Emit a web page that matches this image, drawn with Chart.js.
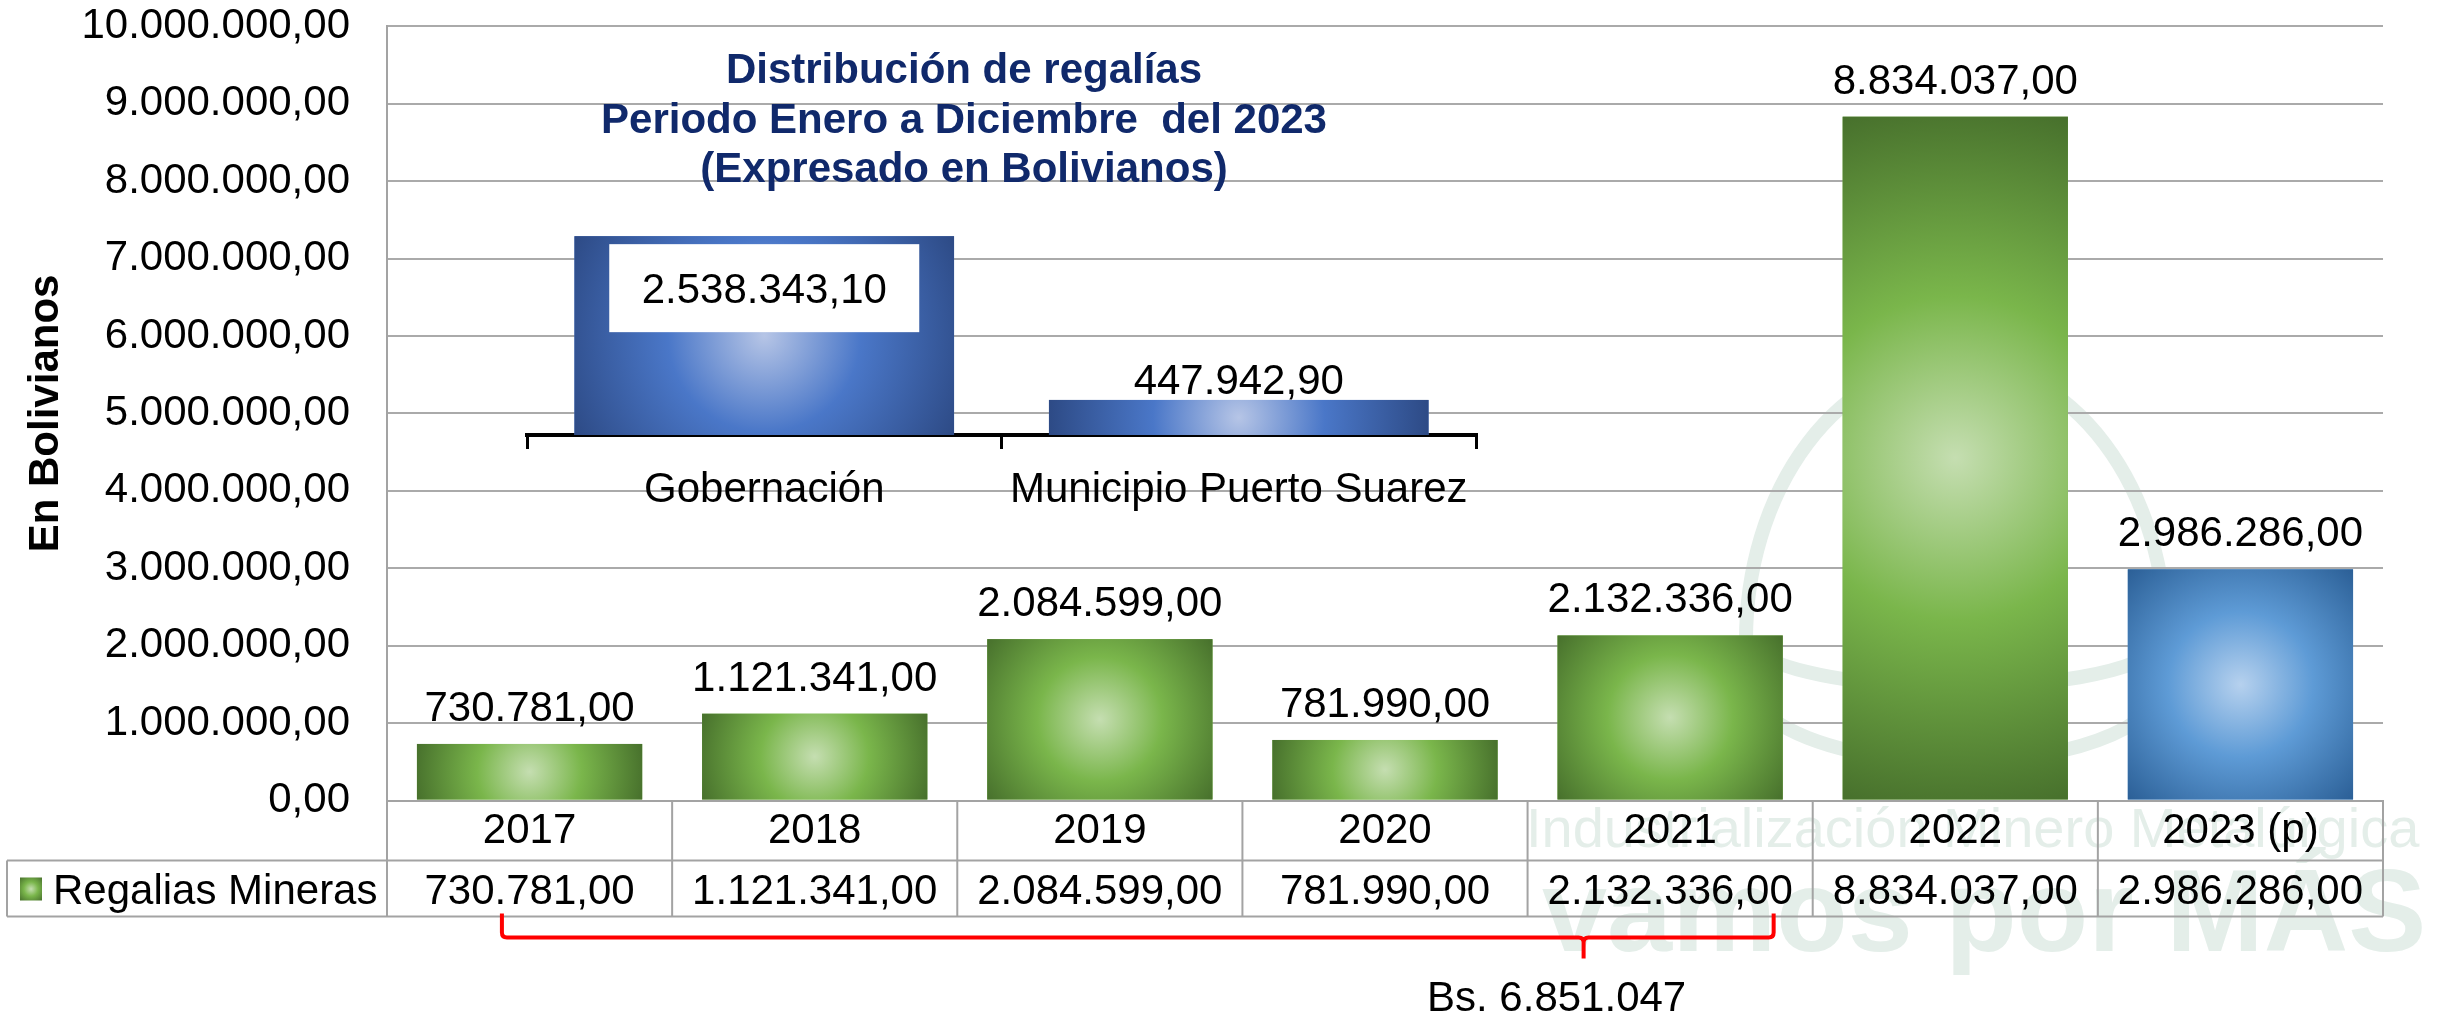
<!DOCTYPE html>
<html>
<head>
<meta charset="utf-8">
<title>Distribución de regalías</title>
<script src="https://cdn.jsdelivr.net/npm/chart.js@4.4.1/dist/chart.umd.min.js"></script>
<style>
  html, body { margin: 0; padding: 0; background: #fff; }
  #wrap { position: relative; width: 2450px; height: 1013px; }
  #mainChart { position: absolute; left: 0; top: 0; }
  #insetChart { position: absolute; left: 480px; top: 190px; }
</style>
</head>
<body>
<div id="wrap">
  <canvas id="mainChart" width="2450" height="1013"></canvas>
  <canvas id="insetChart" width="1050" height="330"></canvas>
</div>
<script>
// main series
const years = ['2017', '2018', '2019', '2020', '2021', '2022', '2023 (p)'];
const regalias = [730781, 1121341, 2084599, 781990, 2132336, 8834037, 2986286];
const seriesName = 'Regalias Mineras';
const yMax = 10000000;
const yStep = 1000000;

// inset: distribution of 2023
const destinos = ['Gobernación', 'Municipio Puerto Suarez'];
const distribucion = [2538343.10, 447942.90];

const titleLines = ['Distribución de regalías', 'Periodo Enero a Diciembre  del 2023', '(Expresado en Bolivianos)'];
const axisTitle = 'En Bolivianos';
const watermarkText = ['Industrialización Minero Metalúrgica', 'vamos por MÁS'];
// years summed under the red bracket (2017..2021)
const bracketFrom = 0;
const bracketTo = 4;

const FONT = "'Liberation Sans', Arial, Helvetica, sans-serif";
const green = ['#c5deb1', '#7ab64b', '#47702c'];
const blue = ['#b6d1ee', '#5e9bd6', '#2b5f96'];
const navy = ['#b6c5e6', '#4a77c8', '#2d4a85'];
const lineGray = '#a3a3a3';

Chart.defaults.font.family = FONT;

function fmt(v, dec) {
    const parts = v.toFixed(dec).split('.');
    const int = parts[0].replace(/\B(?=(\d{3})+(?!\d))/g, '.');
    return dec ? int + ',' + parts[1] : int;
}

function radialFill(ctx, left, top, w, h, pal) {
    const cx = left + w / 2, cy = top + h / 2, r = Math.hypot(w / 2, h / 2);
    const g = ctx.createRadialGradient(cx, cy, 0, cx, cy, r);
    g.addColorStop(0, pal[0]);
    g.addColorStop(0.45, pal[1]);
    g.addColorStop(1, pal[2]);
    return g;
}

// repaint each library bar with an Excel-like radial shading
const radialBars = {
    id: 'radialBars',
    afterDatasetsDraw(chart, args, opts) {
        const ctx = chart.ctx;
        chart.getDatasetMeta(0).data.forEach((bar, i) => {
            const p = bar.getProps(['x', 'y', 'base', 'width'], true);
            const left = p.x - p.width / 2;
            const top = Math.min(p.y, p.base);
            const h = Math.abs(p.base - p.y);
            ctx.save();
            ctx.fillStyle = radialFill(ctx, left, top, p.width, h, opts.palettes[i]);
            ctx.fillRect(left, top, p.width, h);
            ctx.restore();
        });
    }
};

const watermark = {
    id: 'watermark',
    beforeDraw(chart) {
        const ctx = chart.ctx;
        ctx.save();
        ctx.fillStyle = '#fff';
        ctx.fillRect(0, 0, chart.width, chart.height);
        ctx.strokeStyle = '#e4eee9';
        ctx.lineWidth = 14;
        ctx.beginPath();
        ctx.ellipse(1956, 640, 210, 278, 0, Math.PI, 2 * Math.PI);
        ctx.stroke();
        ctx.beginPath();
        ctx.ellipse(1956, 636, 210, 51, 0, 0.05 * Math.PI, 0.95 * Math.PI);
        ctx.stroke();
        ctx.beginPath();
        ctx.ellipse(1956, 679, 210, 83, 0, 0.08 * Math.PI, 0.92 * Math.PI);
        ctx.stroke();
        ctx.fillStyle = '#e4eee9';
        ctx.textAlign = 'left';
        ctx.textBaseline = 'alphabetic';
        ctx.font = '56px ' + FONT;
        ctx.fillText(watermarkText[0], 1526, 847);
        ctx.font = 'bold 117px ' + FONT;
        ctx.fillText(watermarkText[1], 1542, 951);
        ctx.restore();
    }
};

const valueLabels = {
    id: 'valueLabels',
    afterDatasetsDraw(chart) {
        const ctx = chart.ctx;
        ctx.save();
        ctx.font = '42px ' + FONT;
        ctx.fillStyle = '#000';
        ctx.textAlign = 'center';
        ctx.textBaseline = 'alphabetic';
        chart.getDatasetMeta(0).data.forEach((bar, i) => {
            const p = bar.getProps(['x', 'y'], true);
            ctx.fillText(fmt(regalias[i], 2), p.x, p.y - 23);
        });
        ctx.restore();
    }
};

// data table under the x axis: year row is the axis ticks, value row drawn here
const dataTable = {
    id: 'dataTable',
    afterDraw(chart) {
        const {ctx, chartArea: a, scales: {x}} = chart;
        const colW = x.width / years.length;
        const row1 = a.bottom + 60;
        const row2 = row1 + 56;
        const tableLeft = 7;
        ctx.save();
        ctx.strokeStyle = lineGray;
        ctx.lineWidth = 2;
        ctx.beginPath();
        ctx.moveTo(tableLeft, row1); ctx.lineTo(a.right, row1);
        ctx.moveTo(tableLeft, row2); ctx.lineTo(a.right, row2);
        ctx.moveTo(tableLeft, row1); ctx.lineTo(tableLeft, row2);
        for (let i = 0; i <= years.length; i++) {
            const xx = x.left + i * colW;
            ctx.moveTo(xx, a.bottom); ctx.lineTo(xx, row2);
        }
        ctx.stroke();

        ctx.font = '42px ' + FONT;
        ctx.fillStyle = '#000';
        ctx.textAlign = 'center';
        ctx.textBaseline = 'alphabetic';
        regalias.forEach((v, i) => {
            ctx.fillText(fmt(v, 2), x.getPixelForValue(i), row1 + 43);
        });

        ctx.fillStyle = radialFill(ctx, 20, row1 + 17, 22, 23, green);
        ctx.fillRect(20, row1 + 17, 22, 23);
        ctx.fillStyle = '#000';
        ctx.textAlign = 'left';
        ctx.fillText(chart.data.datasets[0].label, 53, row1 + 43);
        ctx.restore();
    }
};

const chartTitle = {
    id: 'chartTitle',
    afterDraw(chart) {
        const ctx = chart.ctx;
        ctx.save();
        ctx.font = 'bold 42px ' + FONT;
        ctx.fillStyle = '#10296b';
        ctx.textAlign = 'center';
        ctx.textBaseline = 'alphabetic';
        titleLines.forEach((t, i) => ctx.fillText(t, 964, 83 + i * 49.5));
        ctx.restore();
    }
};

const bracket = {
    id: 'bracket',
    afterDraw(chart) {
        const {ctx, chartArea: a, scales: {x}} = chart;
        const colW = x.width / years.length;
        const left = x.getPixelForValue(bracketFrom) - 0.097 * colW;
        const right = x.getPixelForValue(bracketTo) + 0.363 * colW;
        const tip = x.getPixelForValue(bracketTo) - 0.3035 * colW;
        const top = a.bottom + 113;
        const mid = a.bottom + 137;
        const bottom = a.bottom + 158;
        const r = 5;
        ctx.save();
        ctx.strokeStyle = '#ff0000';
        ctx.lineWidth = 4;
        ctx.beginPath();
        ctx.moveTo(left, top);
        ctx.lineTo(left, mid - r);
        ctx.quadraticCurveTo(left, mid, left + r, mid);
        ctx.lineTo(tip - r, mid);
        ctx.quadraticCurveTo(tip, mid, tip, mid + r);
        ctx.lineTo(tip, bottom);
        ctx.moveTo(tip, mid + r);
        ctx.quadraticCurveTo(tip, mid, tip + r, mid);
        ctx.lineTo(right - r, mid);
        ctx.quadraticCurveTo(right, mid, right, mid - r);
        ctx.lineTo(right, top);
        ctx.stroke();

        let sum = 0;
        for (let i = bracketFrom; i <= bracketTo; i++) sum += regalias[i];
        ctx.font = '42px ' + FONT;
        ctx.fillStyle = '#000';
        ctx.textAlign = 'center';
        ctx.textBaseline = 'alphabetic';
        ctx.fillText('Bs. ' + fmt(sum, 0), tip - 27, a.bottom + 210);
        ctx.restore();
    }
};

new Chart(document.getElementById('mainChart'), {
    type: 'bar',
    data: {
        labels: years,
        datasets: [{
            label: seriesName,
            data: regalias,
            backgroundColor: years.map((y, i) => i === years.length - 1 ? blue[1] : green[1]),
            barPercentage: 0.79,
            categoryPercentage: 1
        }]
    },
    options: {
        responsive: false,
        animation: false,
        layout: { padding: { left: 0, right: 67, top: 26.4, bottom: 0 } },
        plugins: {
            legend: { display: false },
            tooltip: { enabled: false },
            radialBars: { palettes: years.map((y, i) => i === years.length - 1 ? blue : green) }
        },
        scales: {
            x: {
                grid: { display: false },
                border: { display: true, color: lineGray, width: 2 },
                ticks: { color: '#000', font: { size: 42 }, padding: -2, autoSkip: false, maxRotation: 0 },
                afterFit(scale) {
                    scale.height = 212.5;
                    scale.paddingLeft = 0;
                    scale.paddingRight = 0;
                }
            },
            y: {
                min: 0,
                max: yMax,
                ticks: { stepSize: yStep, color: '#000', font: { size: 42 }, padding: 37, callback: v => fmt(v, 2) },
                grid: { color: '#aaaaaa', lineWidth: 2, drawTicks: false },
                border: { color: lineGray, width: 2 },
                title: {
                    display: true,
                    text: axisTitle,
                    color: '#000',
                    font: { size: 42, weight: 'bold' },
                    padding: { top: 21, bottom: 0 }
                },
                afterFit(scale) {
                    scale.width = 387;
                    scale.paddingTop = 0;
                    scale.paddingBottom = 0;
                }
            }
        }
    },
    plugins: [watermark, radialBars, valueLabels, dataTable, chartTitle, bracket]
});

const insetLabels = {
    id: 'insetLabels',
    afterDatasetsDraw(chart) {
        const ctx = chart.ctx;
        ctx.save();
        ctx.font = '42px ' + FONT;
        ctx.textAlign = 'center';
        ctx.textBaseline = 'alphabetic';
        chart.getDatasetMeta(0).data.forEach((bar, i) => {
            const p = bar.getProps(['x', 'y', 'base'], true);
            const txt = fmt(distribucion[i], 2);
            if (p.base - p.y > 150) {
                ctx.fillStyle = '#fff';
                ctx.fillRect(p.x - 155, p.y + 8, 310, 88);
                ctx.fillStyle = '#000';
                ctx.fillText(txt, p.x, p.y + 67);
            } else {
                ctx.fillStyle = '#000';
                ctx.fillText(txt, p.x, p.y - 6);
            }
        });
        ctx.restore();
    }
};

new Chart(document.getElementById('insetChart'), {
    type: 'bar',
    data: {
        labels: destinos,
        datasets: [{
            label: 'Distribución',
            data: distribucion,
            backgroundColor: navy[1],
            barPercentage: 0.8,
            categoryPercentage: 1
        }]
    },
    options: {
        responsive: false,
        animation: false,
        layout: { padding: { left: 47, right: 54, top: 10, bottom: 0 } },
        plugins: {
            legend: { display: false },
            tooltip: { enabled: false },
            radialBars: { palettes: [navy, navy] }
        },
        scales: {
            y: { display: false, min: 0, max: 3000000 },
            x: {
                grid: { drawOnChartArea: false, drawTicks: true, tickLength: 14, color: '#000', lineWidth: 3, offset: true },
                border: { color: '#000', width: 4 },
                ticks: { color: '#000', font: { size: 42 }, padding: 16, autoSkip: false, maxRotation: 0 },
                afterFit(scale) {
                    scale.height = 85;
                    scale.paddingLeft = 0;
                    scale.paddingRight = 0;
                }
            }
        }
    },
    plugins: [radialBars, insetLabels]
});
</script>
</body>
</html>
